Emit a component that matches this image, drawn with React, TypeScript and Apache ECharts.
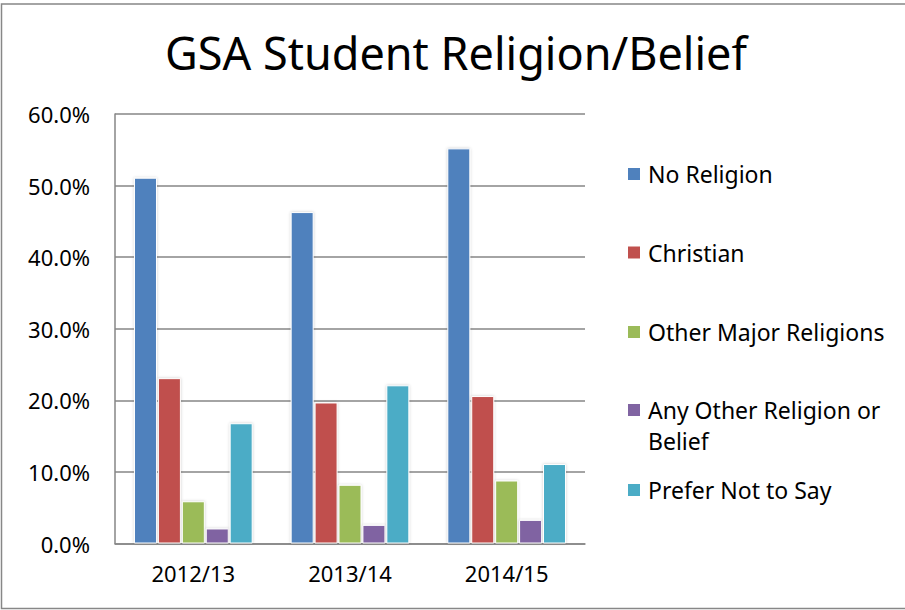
import React, { useEffect, useRef } from "react";
import * as echarts from "echarts";

const categories = ["2012/13", "2013/14", "2014/15"];
const seriesNames = [
  "No Religion",
  "Christian",
  "Other Major Religions",
  "Any Other Religion or Belief",
  "Prefer Not to Say",
];
const noReligion = [51.1, 46.3, 55.2];
const christian = [23.1, 19.7, 20.6];
const otherMajor = [5.9, 8.2, 8.8];
const anyOther = [2.1, 2.6, 3.3];
const preferNot = [16.8, 22.1, 11.1];
const colors = ["#4F81BD", "#C0504D", "#9BBB59", "#8064A2", "#4BACC6"];
const legendCenters = [174, 252.5, 332, 410, 490];

const FONT = "'Noto Sans', sans-serif";

export default function App() {
  const ref = useRef<HTMLDivElement>(null);
  useEffect(() => {
    if (!ref.current) return;
    const chart = echarts.init(ref.current, null, { renderer: "svg" });
    const values = [noReligion, christian, otherMajor, anyOther, preferNot];
    const legends = seriesNames.map((name, i) => {
      const multi = name === "Any Other Religion or Belief";
      const lh = multi ? 31 : 28;
      return {
        data: [name],
        left: 628,
        top: multi ? legendCenters[i] - lh * 1.5 : legendCenters[i] - lh / 2,
        padding: 0,
        itemWidth: 12,
        itemHeight: 12,
        icon: "rect",
        selectedMode: false,
        formatter: multi ? () => "\nAny Other Religion or\nBelief" : undefined,
        itemStyle: { borderWidth: 0 },
        textStyle: {
          fontFamily: FONT,
          fontSize: 23,
          color: "#000",
          lineHeight: lh,
          padding: [0, 0, 0, 3],
        },
      };
    });
    chart.setOption({
      animation: false,
      backgroundColor: "#fff",
      color: colors,
      title: {
        text: "GSA Student Religion/Belief",
        left: 451,
        textAlign: "center",
        top: 25,
        textStyle: { fontFamily: FONT, fontSize: 45, fontWeight: "normal", color: "#000" },
      },
      legend: legends,
      grid: { left: 115, right: 320, top: 114, bottom: 66.5 },
      xAxis: {
        type: "category",
        data: categories,
        axisLine: { lineStyle: { color: "#868686", width: 1.5 } },
        axisTick: { show: false },
        axisLabel: { fontFamily: FONT, fontSize: 22, color: "#000", margin: 18 },
      },
      yAxis: {
        type: "value",
        min: 0,
        max: 60,
        interval: 10,
        axisLine: { show: true, lineStyle: { color: "#868686", width: 1.5 } },
        axisTick: { show: false },
        splitLine: { lineStyle: { color: "#868686", width: 1.5 } },
        axisLabel: {
          fontFamily: FONT,
          fontSize: 22,
          color: "#000",
          margin: 25,
          formatter: (v: number) => v.toFixed(1) + "%",
        },
      },
      series: seriesNames.map((name, i) => ({
        name,
        type: "bar",
        data: values[i],
        barWidth: 23,
        barGap: "4%",
        itemStyle: {
          color: colors[i],
          borderColor: "#fff",
          borderWidth: 1,
          shadowColor: "rgba(0,0,0,0.2)",
          shadowBlur: 3,
        },
      })),
      graphic: [
        {
          type: "rect",
          shape: { x: 1.5, y: 4, width: 920, height: 604.5 },
          style: { fill: "none", stroke: "#878787", lineWidth: 1.5 },
          silent: true,
        },
      ],
    });
    return () => chart.dispose();
  }, []);
  return (
    <div
      ref={ref}
      style={{ position: "absolute", left: 0, top: 0, width: 905, height: 610 }}
    />
  );
}
